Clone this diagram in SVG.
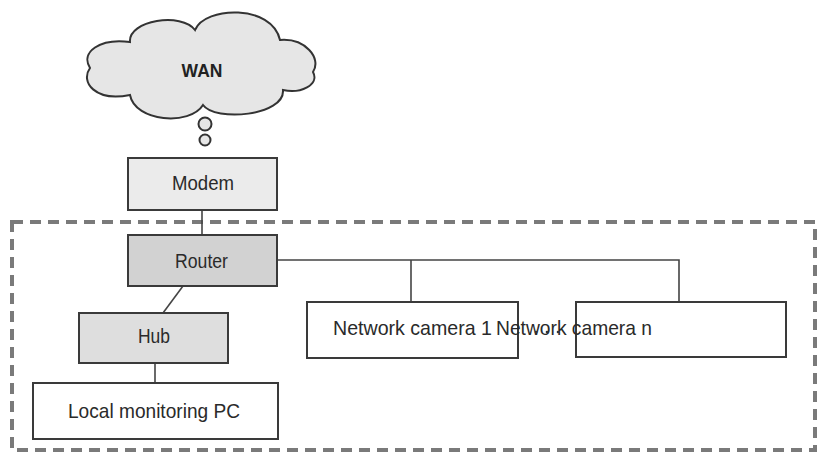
<svg xmlns="http://www.w3.org/2000/svg" width="818" height="453" viewBox="0 0 818 453">
<style>
.box{stroke:#3a3a3a;stroke-width:2}
.lbl{font-family:"Liberation Sans",Arial,sans-serif;font-size:21px;fill:#2a2a2a}
.wire{stroke:#444;stroke-width:1.6;fill:none}
</style>
<rect width="818" height="453" fill="#ffffff"/>
<rect x="12" y="222" width="803" height="228" fill="none" stroke="#7a7a7a" stroke-width="4" stroke-dasharray="11 7"/>
<g id="connectors">
<line class="wire" x1="202" y1="210" x2="202" y2="235"/>
<line class="wire" x1="183" y1="286" x2="163" y2="313"/>
<line class="wire" x1="155" y1="363" x2="155" y2="383"/>
<polyline class="wire" points="277,260 679,260 679,302"/>
<line class="wire" x1="411" y1="260" x2="411" y2="302"/>
</g>
<g id="wan">
<path d="M130 42 C128 20 182 12 195 30 C205 6 272 4 280 40 C305 38 322 58 313 72 C320 85 300 94 283 90 C285 116 215 122 203 105 C190 126 135 122 130 95 C95 102 80 82 90 68 C80 52 100 38 130 42 Z" fill="#e6e6e6" stroke="#333" stroke-width="2"/>
<circle cx="205" cy="124" r="6.5" fill="#e6e6e6" stroke="#333" stroke-width="2"/>
<circle cx="205" cy="140" r="5.5" fill="#e6e6e6" stroke="#333" stroke-width="2"/>
<text x="202" y="77" text-anchor="middle" font-family="Liberation Sans,Arial,sans-serif" font-weight="bold" font-size="17.5" fill="#222">WAN</text>
</g>
<g id="modem">
<rect class="box" x="128" y="158" width="149" height="52" fill="#ebebeb"/>
<text class="lbl" x="172" y="190" textLength="62" lengthAdjust="spacingAndGlyphs">Modem</text>
</g>
<g id="router">
<rect class="box" x="128" y="235" width="149" height="51" fill="#d2d2d2"/>
<text class="lbl" x="175" y="268" textLength="53" lengthAdjust="spacingAndGlyphs">Router</text>
</g>
<g id="hub">
<rect class="box" x="79" y="313" width="149" height="50" fill="#dedede"/>
<text class="lbl" x="138" y="343" textLength="32" lengthAdjust="spacingAndGlyphs">Hub</text>
</g>
<g id="pc">
<rect class="box" x="33" y="383" width="245" height="56" fill="#ffffff"/>
<text class="lbl" x="68" y="418" textLength="172" lengthAdjust="spacingAndGlyphs">Local monitoring PC</text>
</g>
<g id="camera1">
<rect class="box" x="307" y="302" width="211" height="56" fill="#ffffff"/>
<text class="lbl" x="333" y="335" textLength="159" lengthAdjust="spacingAndGlyphs">Network camera 1</text>
</g>
<g id="cameran">
<rect class="box" x="576" y="302" width="210" height="55" fill="none"/>
<text class="lbl" x="496" y="335" textLength="156" lengthAdjust="spacingAndGlyphs">Network camera n</text>
</g>
<g id="dots" fill="#333">
<circle cx="536" cy="332" r="1.3"/>
<circle cx="547" cy="332" r="1.3"/>
<circle cx="558" cy="332" r="1.3"/>
</g>
</svg>
